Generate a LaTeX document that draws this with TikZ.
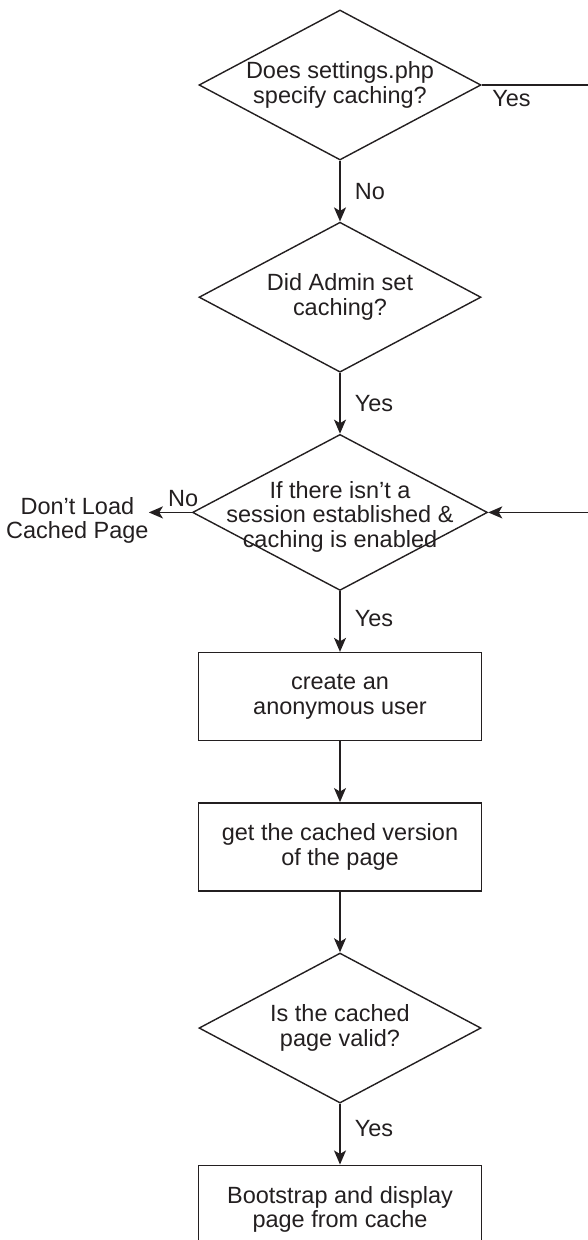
\documentclass[tikz,border=0pt]{standalone}
\usepackage{fontspec}
\setmainfont{Liberation Sans}
\usepackage{tikz}
\usetikzlibrary{shapes.geometric,arrows.meta,positioning}
\definecolor{inkdark}{RGB}{35,31,32}
\tikzset{
  basebox/.style={rectangle,draw=inkdark,line width=1pt,align=center,text=inkdark,font=\fontsize{16.7}{17.5}\selectfont},
  procnode/.style={basebox,minimum width=7.075cm,minimum height=2.2cm},
  decnode/.style={diamond,draw=inkdark,line width=1pt,inner sep=0pt,minimum width=7.05cm,minimum height=3.75cm},
  dectext/.style={align=center,text=inkdark,inner sep=0pt,font=\fontsize{16.7}{17.5}\selectfont},
  lbl/.style={text=inkdark,font=\fontsize{16.7}{17.5}\selectfont},
  arr/.style={-{Stealth[length=10pt,width=8.5pt,inset=2.5pt]},line width=1.3pt,color=inkdark},
  plainline/.style={line width=1.3pt,color=inkdark}
}

\begin{document}
\begin{tikzpicture}[node distance=1.52cm]
  \useasboundingbox (-8.5,-28.875) rectangle (6.2,2.125);
  \coordinate (edge) at (6.2,0);
  \node[decnode,label={[dectext]center:Does settings.php\\specify caching?}] (q1) at (0,0) {};
  \node[decnode,below=of q1,label={[dectext]center:Did Admin set\\caching?}] (q2) {};
  \node[decnode,below=of q2,minimum width=7.375cm,minimum height=3.9cm,
    label={[dectext,yshift=-3pt]center:If there isn’t a\\session established \&\\caching is enabled}] (q3) {};
  \node[procnode,below=of q3] (anon) {create an\\anonymous user};
  \node[procnode,below=of anon] (getc) {get the cached version\\of the page};
  \node[decnode,below=of getc,label={[dectext]center:Is the cached\\page valid?}] (q4) {};
  \node[procnode,below=of q4] (boot) {Bootstrap and display\\page from cache};
  \node[dectext,left=1.075cm of q3,yshift=-0.2cm] (noload) {Don’t Load\\Cached Page};
  \draw[plainline] (q1.east) -- node[lbl,below,pos=.28] {Yes} (q1.east -| edge);
  \draw[arr] (q1) -- node[lbl,right=0.23cm] {No} (q2);
  \draw[arr] (q2) -- node[lbl,right=0.23cm] {Yes} (q3);
  \draw[arr] (q3) -- node[lbl,right=0.23cm,pos=.45] {Yes} (anon);
  \foreach \a/\b in {anon/getc,getc/q4} \draw[arr] (\a)--(\b);
  \draw[arr] (q4) -- node[lbl,right=0.23cm,pos=.4] {Yes} (boot);
  \draw[arr] (q3.west) -- node[lbl,above,pos=.2] {No} (q3.west -| noload.east);
  \draw[arr] (q3.east -| edge) -- (q3.east);
\end{tikzpicture}
\end{document}
